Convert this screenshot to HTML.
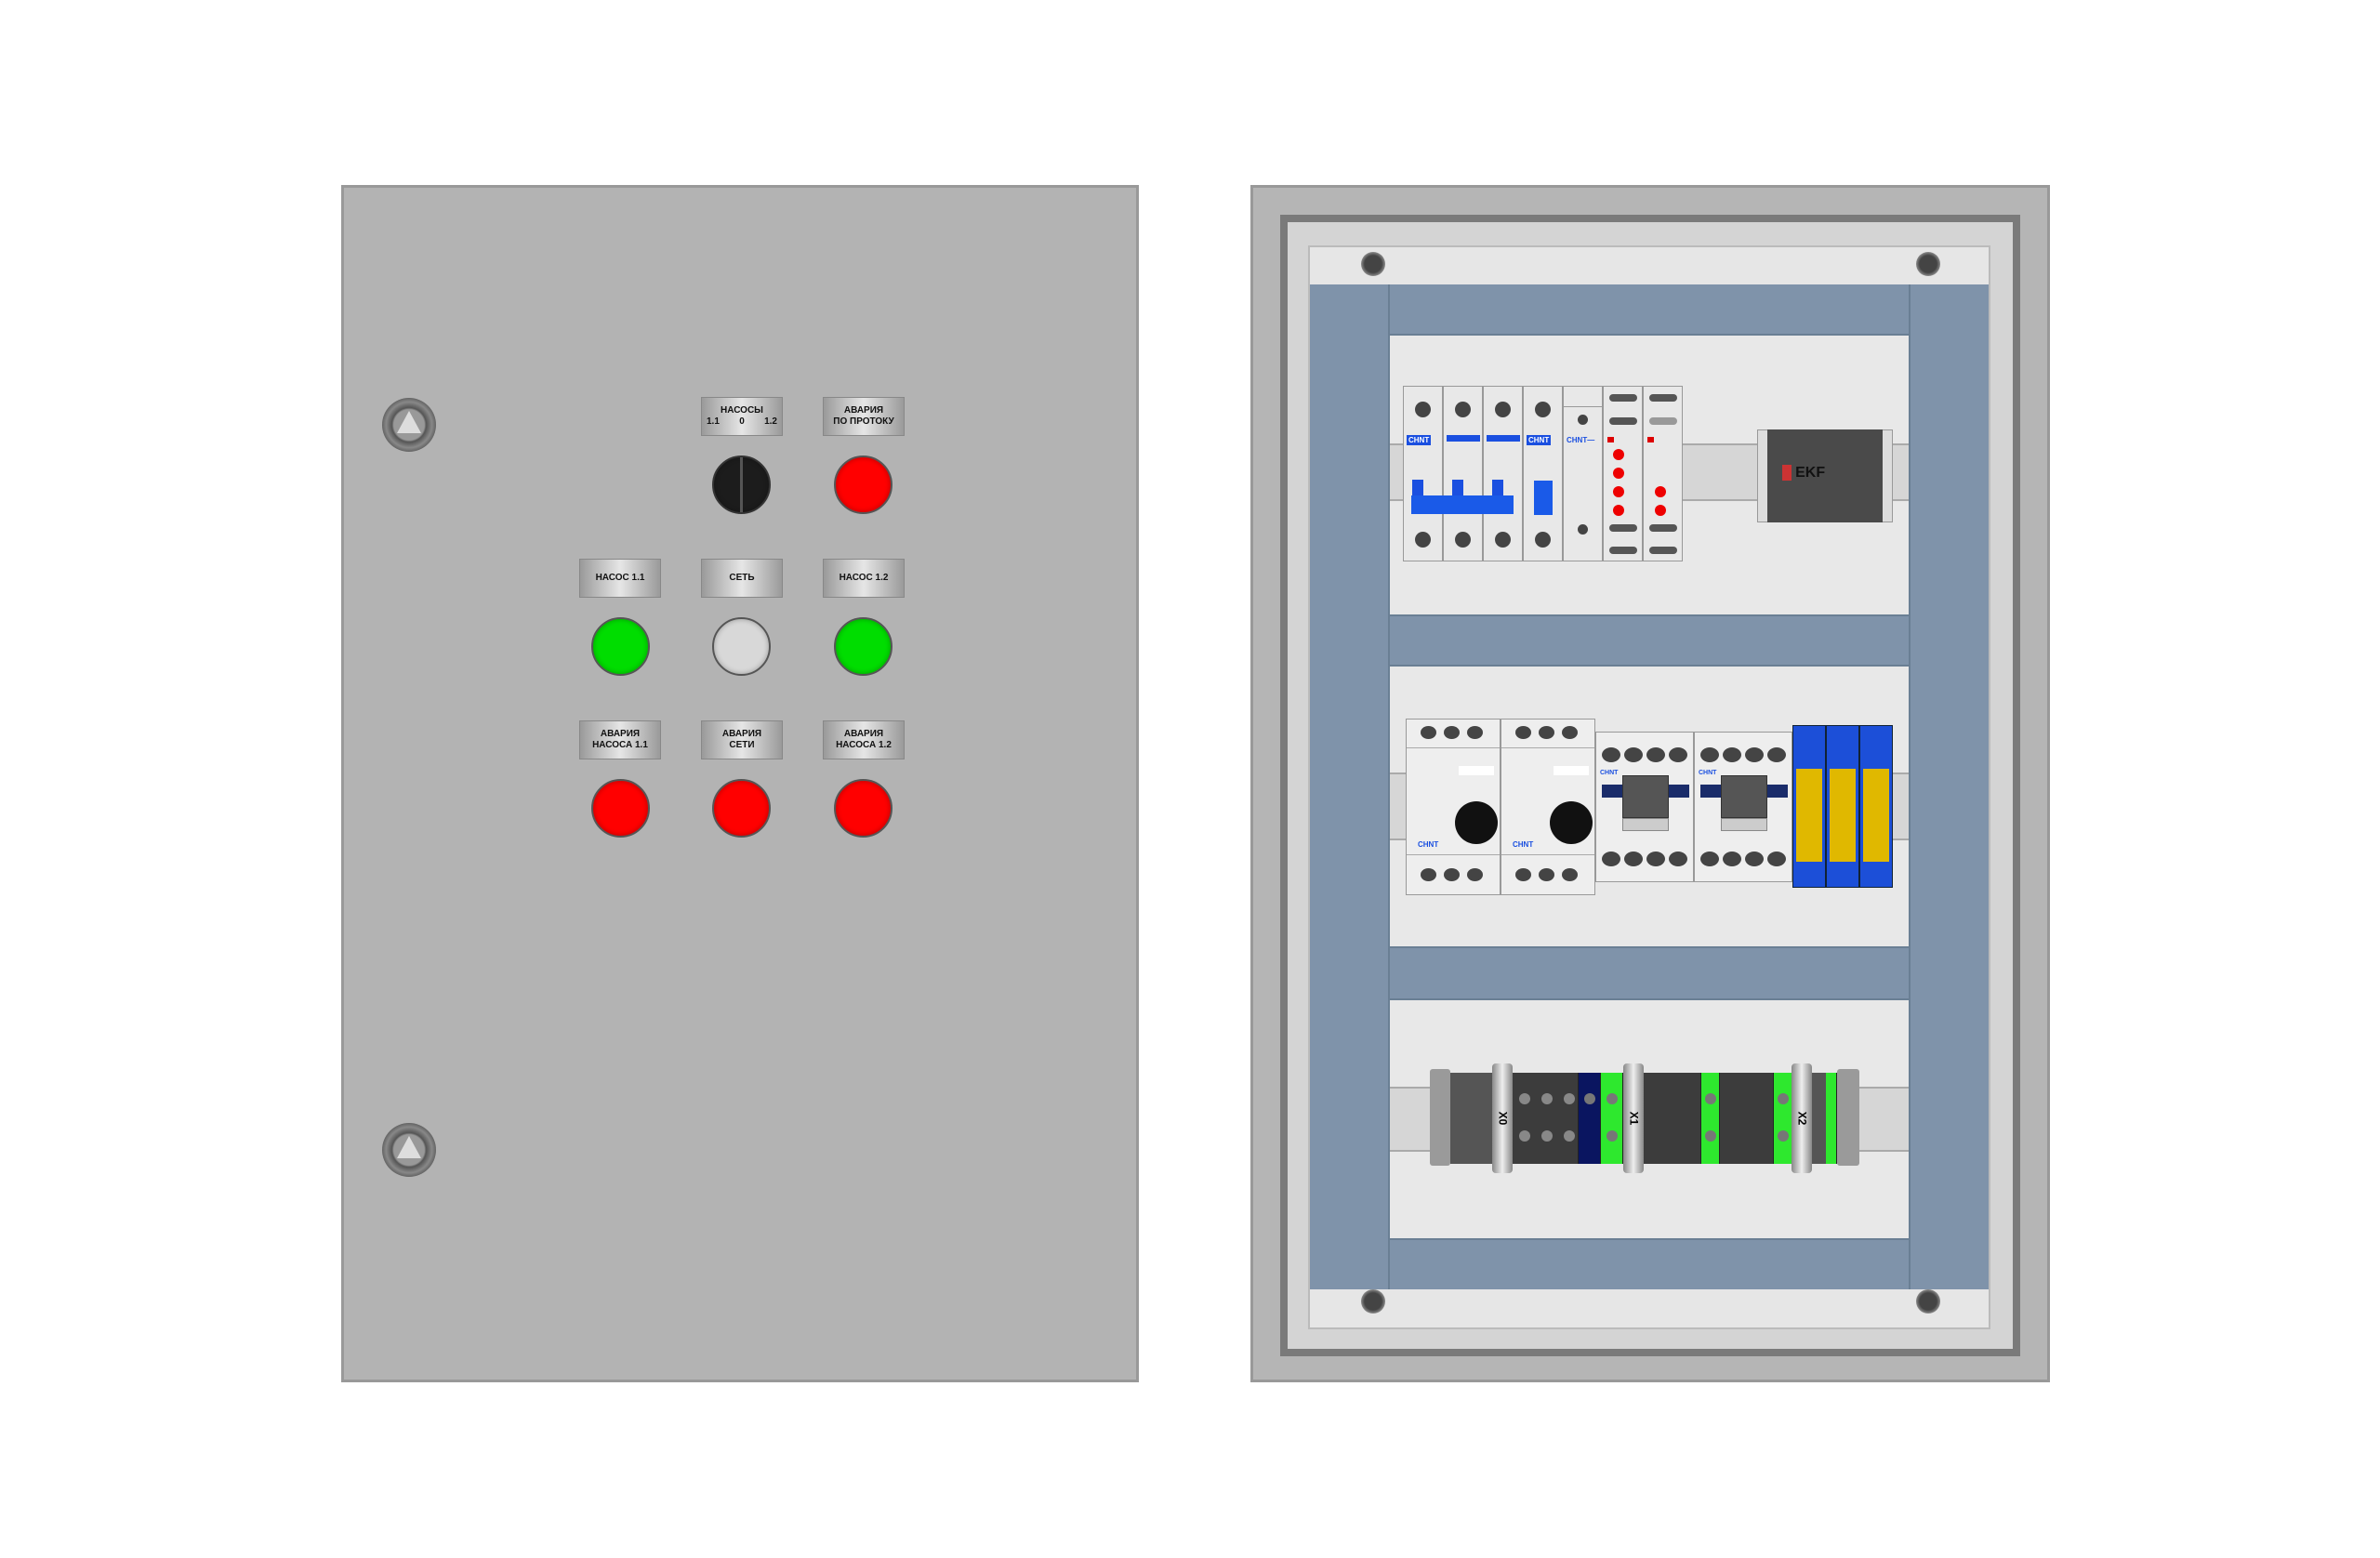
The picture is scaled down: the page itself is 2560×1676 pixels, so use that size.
<!DOCTYPE html>
<html><head><meta charset="utf-8"><style>
*{margin:0;padding:0;box-sizing:border-box}
body{width:2560px;height:1676px;background:#fff;position:relative;overflow:hidden;font-family:"Liberation Sans",sans-serif}
.a{position:absolute}
.lbl{position:absolute;width:88px;height:42px;background:linear-gradient(90deg,#9a9a9a,#e6e6e6 50%,#9a9a9a);border:1px solid #888;font-size:10px;font-weight:bold;color:#111;text-align:center;display:flex;align-items:center;justify-content:center;line-height:12px}
.btn{position:absolute;width:63px;height:63px;border-radius:50%;border:2px solid #555;box-shadow:inset 0 0 6px rgba(0,0,0,.3)}
.lock{position:absolute;width:58px;height:58px;border-radius:50%;background:radial-gradient(circle,#999 40%,#555 45%,#888 60%,#444 80%);}
.lock:after{content:"";position:absolute;left:16px;top:14px;border-left:13px solid transparent;border-right:13px solid transparent;border-bottom:24px solid #ddd}
.scr{position:absolute;width:26px;height:26px;border-radius:50%;background:radial-gradient(circle,#444 50%,#888 70%,#333)}
.mod{position:absolute;top:0;width:43px;height:189px;background:#e8e8e8;border:1px solid #999}
.dot{position:absolute;width:17px;height:17px;border-radius:50%;background:#444}
.rd{position:absolute;width:12px;height:12px;border-radius:50%;background:#e00}
.chnt{position:absolute;background:#1a4fe0;color:#fff;font-size:8px;font-weight:bold;padding:1px 2px}
.rail{position:absolute;background:#d6d6d6;border-top:2px solid #aaa;border-bottom:2px solid #aaa}
.tb{position:absolute;top:0;height:98px;background:#3c3c3c;border-right:1px solid #222}
.mark{position:absolute;top:-10px;width:22px;height:118px;background:linear-gradient(90deg,#888,#eee,#888);border-radius:4px;font-size:12px;font-weight:bold;display:flex;align-items:center;justify-content:center}
.mark span{transform:rotate(90deg)}
.cd{position:absolute;width:20px;height:16px;border-radius:50%;background:#444}
</style></head><body>

<!-- LEFT DOOR -->
<div class="a" style="left:367px;top:199px;width:858px;height:1288px;background:#b3b3b3;border:3px solid #999"></div>
<div class="lock" style="left:411px;top:428px"></div>
<div class="lock" style="left:411px;top:1208px"></div>

<div class="lbl" style="left:754px;top:427px;flex-direction:column">НАСОСЫ<br><span style="width:76px;display:flex;justify-content:space-between"><b>1.1</b><b>0</b><b>1.2</b></span></div>
<div class="lbl" style="left:885px;top:427px">АВАРИЯ<br>ПО ПРОТОКУ</div>
<div class="btn" style="left:766px;top:490px;background:#1c1c1c;border-color:#333"></div>
<div class="a" style="left:796px;top:492px;width:3px;height:59px;background:#555"></div>
<div class="btn" style="left:897px;top:490px;background:#f00"></div>

<div class="lbl" style="left:623px;top:601px">НАСОС 1.1</div>
<div class="lbl" style="left:754px;top:601px">СЕТЬ</div>
<div class="lbl" style="left:885px;top:601px">НАСОС 1.2</div>
<div class="btn" style="left:636px;top:664px;background:#00dd00"></div>
<div class="btn" style="left:766px;top:664px;background:#d8d8d8"></div>
<div class="btn" style="left:897px;top:664px;background:#00dd00"></div>

<div class="lbl" style="left:623px;top:775px">АВАРИЯ<br>НАСОСА 1.1</div>
<div class="lbl" style="left:754px;top:775px">АВАРИЯ<br>СЕТИ</div>
<div class="lbl" style="left:885px;top:775px">АВАРИЯ<br>НАСОСА 1.2</div>
<div class="btn" style="left:636px;top:838px;background:#f00"></div>
<div class="btn" style="left:766px;top:838px;background:#f00"></div>
<div class="btn" style="left:897px;top:838px;background:#f00"></div>

<!-- RIGHT CABINET -->
<div class="a" style="left:1345px;top:199px;width:860px;height:1288px;background:#b5b5b5;border:3px solid #999"></div>
<div class="a" style="left:1377px;top:231px;width:796px;height:1228px;background:#d4d4d4;border:8px solid #7a7a7a"></div>
<div class="a" style="left:1407px;top:264px;width:734px;height:1166px;background:#e6e6e6;border:2px solid #bbb"></div>
<div class="a" style="left:1409px;top:306px;width:730px;height:1081px;background:#7f93aa"></div>
<div class="a" style="left:1493px;top:306px;width:562px;height:1081px;border-left:2px solid #6a7f94;border-right:2px solid #6a7f94"></div>
<div class="a" style="left:1495px;top:359px;width:558px;height:304px;background:#e8e8e8;border-top:2px solid #6a7f94;border-bottom:2px solid #6a7f94"></div>
<div class="a" style="left:1495px;top:715px;width:558px;height:305px;background:#e8e8e8;border-top:2px solid #6a7f94;border-bottom:2px solid #6a7f94"></div>
<div class="a" style="left:1495px;top:1074px;width:558px;height:260px;background:#e8e8e8;border-top:2px solid #6a7f94;border-bottom:2px solid #6a7f94"></div>
<div class="scr" style="left:1464px;top:271px"></div>
<div class="scr" style="left:2061px;top:271px"></div>
<div class="scr" style="left:1464px;top:1387px"></div>
<div class="scr" style="left:2061px;top:1387px"></div>

<!-- band1 -->
<div class="rail" style="left:1495px;top:477px;width:558px;height:62px"></div>
<div class="a" style="left:1509px;top:415px;width:301px;height:189px">
  <div class="mod" style="left:0"><div class="dot" style="left:12px;top:16px"></div><div class="chnt" style="left:3px;top:52px">CHNT</div><div class="dot" style="left:12px;top:156px"></div></div>
  <div class="mod" style="left:43px"><div class="dot" style="left:12px;top:16px"></div><div class="a" style="left:3px;top:52px;width:36px;height:7px;background:#1a4fe0"></div><div class="dot" style="left:12px;top:156px"></div></div>
  <div class="mod" style="left:86px"><div class="dot" style="left:12px;top:16px"></div><div class="a" style="left:3px;top:52px;width:36px;height:7px;background:#1a4fe0"></div><div class="dot" style="left:12px;top:156px"></div></div>
  <div class="a" style="left:10px;top:101px;width:12px;height:18px;background:#1a4fe0"></div>
  <div class="a" style="left:53px;top:101px;width:12px;height:18px;background:#1a4fe0"></div>
  <div class="a" style="left:96px;top:101px;width:12px;height:18px;background:#1a4fe0"></div>
  <div class="a" style="left:9px;top:118px;width:110px;height:20px;background:#1a5ae8"></div>
  <div class="mod" style="left:129px"><div class="dot" style="left:12px;top:16px"></div><div class="chnt" style="left:3px;top:52px">CHNT</div><div class="a" style="left:11px;top:101px;width:20px;height:37px;background:#1a5ae8"></div><div class="dot" style="left:12px;top:156px"></div></div>
  <div class="mod" style="left:172px"><div class="a" style="left:0;top:0;width:41px;height:22px;border-bottom:1px solid #999"></div><div class="dot" style="left:15px;top:30px;width:11px;height:11px"></div><div class="a" style="left:3px;top:53px;font-size:8px;color:#1a4fe0;font-weight:bold">CHNT—</div><div class="dot" style="left:15px;top:148px;width:11px;height:11px"></div></div>
  <div class="mod" style="left:215px"><div class="a" style="left:6px;top:8px;width:30px;height:8px;background:#555;border-radius:4px"></div><div class="a" style="left:6px;top:33px;width:30px;height:8px;background:#555;border-radius:4px"></div><div class="a" style="left:4px;top:54px;width:7px;height:6px;background:#d00"></div><div class="rd" style="left:10px;top:67px"></div><div class="rd" style="left:10px;top:87px"></div><div class="rd" style="left:10px;top:107px"></div><div class="rd" style="left:10px;top:127px"></div><div class="a" style="left:6px;top:148px;width:30px;height:8px;background:#555;border-radius:4px"></div><div class="a" style="left:6px;top:172px;width:30px;height:8px;background:#555;border-radius:4px"></div></div>
  <div class="mod" style="left:258px"><div class="a" style="left:6px;top:8px;width:30px;height:8px;background:#555;border-radius:4px"></div><div class="a" style="left:6px;top:33px;width:30px;height:8px;background:#999;border-radius:4px"></div><div class="a" style="left:4px;top:54px;width:7px;height:6px;background:#d00"></div><div class="rd" style="left:12px;top:107px"></div><div class="rd" style="left:12px;top:127px"></div><div class="a" style="left:6px;top:148px;width:30px;height:8px;background:#555;border-radius:4px"></div><div class="a" style="left:6px;top:172px;width:30px;height:8px;background:#555;border-radius:4px"></div></div>
</div>
<div class="a" style="left:1890px;top:462px;width:146px;height:100px;background:#ddd;border:1px solid #999"></div>
<div class="a" style="left:1901px;top:462px;width:124px;height:100px;background:#4a4a4a"></div>
<div class="a" style="left:1917px;top:500px;font-size:16px;font-weight:bold;color:#111"><span style="background:#c33;color:#c33">■</span> EKF</div>

<!-- band2 -->
<div class="rail" style="left:1495px;top:831px;width:558px;height:73px"></div>
<div class="a" style="left:1512px;top:773px;width:102px;height:190px;background:#eee;border:1px solid #999"><div class="a" style="left:0;top:30px;width:100%;border-top:1px solid #aaa"></div><div class="a" style="left:0;top:145px;width:100%;border-top:1px solid #aaa"></div><div class="a" style="left:52px;top:88px;width:46px;height:46px;border-radius:50%;background:#111"></div><div class="a" style="left:56px;top:50px;width:38px;height:10px;background:#fff"></div><div class="a" style="left:12px;top:130px;font-size:8px;color:#1a4fe0;font-weight:bold">CHNT</div><div class="dot" style="left:15px;top:7px;height:14px"></div><div class="dot" style="left:40px;top:7px;height:14px"></div><div class="dot" style="left:65px;top:7px;height:14px"></div><div class="dot" style="left:15px;top:160px;height:14px"></div><div class="dot" style="left:40px;top:160px;height:14px"></div><div class="dot" style="left:65px;top:160px;height:14px"></div></div>
<div class="a" style="left:1614px;top:773px;width:102px;height:190px;background:#eee;border:1px solid #999"><div class="a" style="left:0;top:30px;width:100%;border-top:1px solid #aaa"></div><div class="a" style="left:0;top:145px;width:100%;border-top:1px solid #aaa"></div><div class="a" style="left:52px;top:88px;width:46px;height:46px;border-radius:50%;background:#111"></div><div class="a" style="left:56px;top:50px;width:38px;height:10px;background:#fff"></div><div class="a" style="left:12px;top:130px;font-size:8px;color:#1a4fe0;font-weight:bold">CHNT</div><div class="dot" style="left:15px;top:7px;height:14px"></div><div class="dot" style="left:40px;top:7px;height:14px"></div><div class="dot" style="left:65px;top:7px;height:14px"></div><div class="dot" style="left:15px;top:160px;height:14px"></div><div class="dot" style="left:40px;top:160px;height:14px"></div><div class="dot" style="left:65px;top:160px;height:14px"></div></div>
<div class="a" style="left:1716px;top:787px;width:106px;height:162px;background:#eee;border:1px solid #999"><div class="cd" style="left:6px;top:16px"></div><div class="cd" style="left:30px;top:16px"></div><div class="cd" style="left:54px;top:16px"></div><div class="cd" style="left:78px;top:16px"></div><div class="a" style="left:6px;top:56px;width:94px;height:14px;background:#1a2c6a"></div><div class="a" style="left:28px;top:46px;width:50px;height:46px;background:#555;border:1px solid #333"></div><div class="a" style="left:28px;top:92px;width:50px;height:14px;background:#ccc;border:1px solid #888"></div><div class="a" style="left:4px;top:40px;font-size:7px;color:#1a4fe0;font-weight:bold">CHNT</div><div class="cd" style="left:6px;top:128px"></div><div class="cd" style="left:30px;top:128px"></div><div class="cd" style="left:54px;top:128px"></div><div class="cd" style="left:78px;top:128px"></div></div>
<div class="a" style="left:1822px;top:787px;width:106px;height:162px;background:#eee;border:1px solid #999"><div class="cd" style="left:6px;top:16px"></div><div class="cd" style="left:30px;top:16px"></div><div class="cd" style="left:54px;top:16px"></div><div class="cd" style="left:78px;top:16px"></div><div class="a" style="left:6px;top:56px;width:94px;height:14px;background:#1a2c6a"></div><div class="a" style="left:28px;top:46px;width:50px;height:46px;background:#555;border:1px solid #333"></div><div class="a" style="left:28px;top:92px;width:50px;height:14px;background:#ccc;border:1px solid #888"></div><div class="a" style="left:4px;top:40px;font-size:7px;color:#1a4fe0;font-weight:bold">CHNT</div><div class="cd" style="left:6px;top:128px"></div><div class="cd" style="left:30px;top:128px"></div><div class="cd" style="left:54px;top:128px"></div><div class="cd" style="left:78px;top:128px"></div></div>
<div class="a" style="left:1928px;top:780px;width:36px;height:175px;background:#1c4fd8;border:1px solid #123"><div class="a" style="left:3px;top:46px;width:28px;height:100px;background:#e0b800"></div></div>
<div class="a" style="left:1964px;top:780px;width:36px;height:175px;background:#1c4fd8;border:1px solid #123"><div class="a" style="left:3px;top:46px;width:28px;height:100px;background:#e0b800"></div></div>
<div class="a" style="left:2000px;top:780px;width:36px;height:175px;background:#1c4fd8;border:1px solid #123"><div class="a" style="left:3px;top:46px;width:28px;height:100px;background:#e0b800"></div></div>

<!-- band3 -->
<div class="rail" style="left:1495px;top:1169px;width:558px;height:70px"></div>
<div class="a" style="left:1538px;top:1154px;width:470px;height:98px">
  <div class="a" style="left:0;top:-4px;width:22px;height:104px;background:#9a9a9a;border-radius:3px"></div>
  <div class="tb" style="left:22px;width:46px;background:#555"></div>
  <div class="tb" style="left:88px;width:72px"></div>
  <div class="tb" style="left:160px;width:24px;background:#0a1560"></div>
  <div class="tb" style="left:184px;width:24px;background:#2ee82e"></div>
  <div class="tb" style="left:230px;width:62px"></div>
  <div class="tb" style="left:292px;width:20px;background:#2ee82e"></div>
  <div class="tb" style="left:312px;width:58px"></div>
  <div class="tb" style="left:370px;width:20px;background:#2ee82e"></div>
  <div class="tb" style="left:410px;width:26px;background:#555"></div>
  <div class="tb" style="left:426px;width:12px;background:#2ee82e"></div>
  <div class="a" style="left:438px;top:-4px;width:24px;height:104px;background:#9a9a9a;border-radius:3px"></div>
  <div class="a" style="left:96px;top:22px;width:12px;height:12px;border-radius:50%;background:#888"></div>
  <div class="a" style="left:120px;top:22px;width:12px;height:12px;border-radius:50%;background:#888"></div>
  <div class="a" style="left:144px;top:22px;width:12px;height:12px;border-radius:50%;background:#888"></div>
  <div class="a" style="left:96px;top:62px;width:12px;height:12px;border-radius:50%;background:#888"></div>
  <div class="a" style="left:120px;top:62px;width:12px;height:12px;border-radius:50%;background:#888"></div>
  <div class="a" style="left:144px;top:62px;width:12px;height:12px;border-radius:50%;background:#888"></div>
  <div class="a" style="left:166px;top:22px;width:12px;height:12px;border-radius:50%;background:#777"></div>
  <div class="a" style="left:190px;top:22px;width:12px;height:12px;border-radius:50%;background:#777"></div>
  <div class="a" style="left:190px;top:62px;width:12px;height:12px;border-radius:50%;background:#777"></div>
  <div class="a" style="left:296px;top:22px;width:12px;height:12px;border-radius:50%;background:#777"></div>
  <div class="a" style="left:296px;top:62px;width:12px;height:12px;border-radius:50%;background:#777"></div>
  <div class="a" style="left:374px;top:22px;width:12px;height:12px;border-radius:50%;background:#777"></div>
  <div class="a" style="left:374px;top:62px;width:12px;height:12px;border-radius:50%;background:#777"></div>
  <div class="mark" style="left:67px"><span>X0</span></div>
  <div class="mark" style="left:208px"><span>X1</span></div>
  <div class="mark" style="left:389px"><span>X2</span></div>
</div>
</body></html>
